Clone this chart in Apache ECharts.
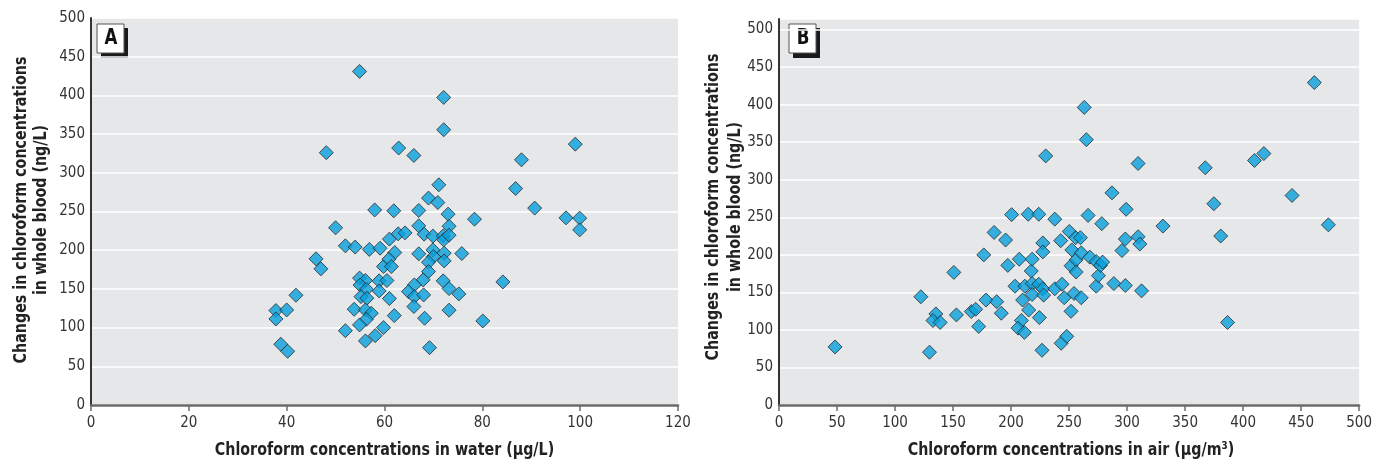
<!DOCTYPE html>
<html>
<head>
<meta charset="utf-8">
<script src="https://cdn.jsdelivr.net/npm/echarts@6.0.0/dist/echarts.min.js"></script>
<style>
  html, body { margin: 0; padding: 0; background: #fff; }
  #chart { width: 1375px; height: 461px; }
</style>
</head>
<body>
<div id="chart"></div>
<script>
// 图 A：水中氯仿浓度 vs 血液中氯仿变化
const waterX = [37.8, 40.0, 37.8, 38.8, 40.2, 41.9, 46.0, 47.0, 48.1, 50.0,
    52.0, 54.0, 52.0, 54.9, 54.9, 56.1, 55.0, 56.3, 55.2, 56.4,
    53.8, 56.1, 57.3, 56.3, 54.9, 56.1, 58.1, 59.8, 58.9, 58.9,
    59.8, 56.9, 59.1, 58.0, 62.9, 66.0, 71.1, 69.0, 70.9, 61.9,
    67.0, 73.0, 78.4, 67.0, 73.2, 68.1, 69.9, 72.0, 72.1, 73.2,
    62.8, 64.2, 61.0, 62.1, 67.0, 69.9, 72.2, 75.8, 70.0, 69.0,
    72.2, 60.9, 61.4, 69.0, 67.9, 66.1, 64.9, 66.1, 68.0, 72.0,
    73.2, 75.2, 60.5, 61.0, 66.0, 73.2, 62.0, 68.2, 80.1, 69.2,
    84.2, 99.0, 88.0, 86.8, 90.7, 97.1, 99.9, 99.9, 72.1, 72.1];
const waterBlood = [122, 122.8, 111.2, 78.5, 69.4, 141.8, 188.8, 175.9, 326, 229,
    205.6, 204, 96, 431, 164, 160.8, 155, 149.6, 140, 138,
    123.7, 122.8, 118.6, 110.8, 103.5, 82.8, 89.6, 100, 160.4, 147.4,
    178.9, 201, 202.6, 252, 332, 322.4, 284.5, 267.3, 261.6, 250.9,
    251.3, 246.6, 240.1, 231.5, 231, 220.7, 218.2, 218.5, 213.4, 219.4,
    221.1, 222.4, 214.3, 197, 195.3, 200.4, 196.2, 195.7, 191.8, 184.5,
    186.2, 188.4, 178.9, 172.4, 161.6, 155.2, 146.5, 140, 142.2, 160.4,
    150.4, 143.5, 160.8, 137.5, 127.2, 122.5, 115.5, 112.1, 108.6, 74.1,
    159, 337, 316.8, 279.7, 254.4, 241.8, 241.4, 226.3, 397.4, 355.6];

// 图 B：空气中氯仿浓度 vs 血液中氯仿变化
const airX = [48.3, 122.3, 135.2, 132.7, 138.9, 129.7, 150.7, 152.9, 165.8, 169.5,
    172.1, 176.5, 178.4, 185.4, 187.6, 191.6, 195.3, 197.2, 200.5, 203.4,
    207.1, 210.0, 208.9, 206.0, 211.5, 211.9, 214.8, 217.4, 218.2, 215.2,
    218.2, 218.2, 223.9, 227.4, 227.4, 223.9, 227.4, 228.1, 224.4, 226.7,
    229.9, 237.7, 237.7, 242.8, 243.9, 245.8, 243.2, 248.0, 250.2, 252.4,
    251.7, 251.7, 254.3, 255.7, 256.1, 256.1, 259.8, 260.5, 260.5, 263.1,
    264.9, 266.4, 267.9, 273.4, 273.4, 275.3, 277.1, 278.2, 278.9, 287.0,
    288.6, 295.6, 298.5, 299.2, 298.5, 309.5, 311.0, 309.5, 312.5, 330.9,
    367.4, 374.8, 380.7, 386.6, 409.8, 417.9, 442.2, 461.4, 473.5];
const airBlood = [77.3, 144.1, 121.3, 112.5, 109.9, 70.3, 176.6, 120, 124.4, 127.4,
    104.6, 199.9, 139.7, 229.8, 137.5, 122.2, 219.7, 185.9, 253.5, 158.2,
    194.2, 139.7, 112.5, 102.4, 96.7, 158.2, 254, 178.4, 194.2, 126.5,
    161.7, 147.2, 254, 215.8, 203.9, 160.8, 154.7, 146.3, 116.4, 72.9,
    331.7, 247.5, 154.7, 218.8, 160.8, 142.8, 82.2, 91.4, 231.1, 206.5,
    185.4, 124.8, 148.5, 222.8, 193.3, 177.1, 222.8, 202.6, 142.8, 396.3,
    353.3, 252.5, 196.9, 191.1, 158.2, 172.2, 185.9, 241.5, 190.3, 282.5,
    161.7, 205.6, 221.0, 260.6, 159.1, 224.1, 214.4, 321.6, 152.0, 238.2,
    315.9, 268.0, 225.0, 109.9, 325.6, 334.8, 279.0, 429.3, 239.9];

const yTicks = [0, 50, 100, 150, 200, 250, 300, 350, 400, 450, 500];
const waterTicks = [0, 20, 40, 60, 80, 100, 120];
const airTicks = [0, 50, 100, 150, 200, 250, 300, 350, 400, 450, 500];

const FONT = "'DejaVu Sans Condensed', 'Liberation Sans Narrow', 'Roboto', sans-serif";
const BG = "#e6e7e8";

const pairs = (xs, ys) => xs.map((x, i) => [x, ys[i]]);
const onlyTicks = (ticks) => (v) => ticks.includes(Math.round(v * 10) / 10) ? String(v) : "";

function makeX(idx, max, interval, ticks) {
    return {
        gridIndex: idx, type: "value", min: 0, max, interval,
        axisLine: { show: true, lineStyle: { color: "#6b6b6b", width: 2.5 } },
        axisTick: { show: true, inside: false, length: 6, lineStyle: { color: "#6b6b6b", width: 1.5 } },
        axisLabel: { fontFamily: FONT, fontSize: 15, color: "#333", margin: 11, formatter: onlyTicks(ticks) },
        splitLine: { show: false }
    };
}

function makeY(idx, max) {
    return {
        gridIndex: idx, type: "value", min: 0, max, interval: 50,
        axisLine: { show: true, lineStyle: { color: "#333", width: 2 } },
        axisTick: { show: false },
        axisLabel: { fontFamily: FONT, fontSize: 15, color: "#333", margin: 6, formatter: onlyTicks(yTicks) },
        splitLine: { show: true, lineStyle: { color: "#fff", width: 1.5 } }
    };
}

const markStyle = { color: "#06a0dc", borderColor: "#2a2a2a", borderWidth: 1 };
const titleFont = `bold 18px ${FONT}`;
const SQUEEZE = 0.88; // 原图是窄体字，横向压一下

function panelLabel(x, letter) {
    return [
        { type: "rect", shape: { x: x + 4, y: 28, width: 27, height: 30 }, style: { fill: "#1a1a1a" } },
        { type: "rect", shape: { x: x, y: 24, width: 27, height: 29 }, style: { fill: "#fff", stroke: "#555", lineWidth: 1 } },
        { type: "text", x: x + 14, y: 39, scaleX: SQUEEZE, style: { text: letter, font: `bold 21px ${FONT}`, fill: "#111", textAlign: "center", textVerticalAlign: "middle" } }
    ];
}

function title(text, x, y, rot) {
    return { type: "text", x, y, rotation: rot || 0, scaleX: SQUEEZE,
        style: { text, font: titleFont, fill: "#222", textAlign: "center", textVerticalAlign: "middle" } };
}

const chart = echarts.init(document.getElementById("chart"), null, { renderer: "canvas" });
chart.setOption({
    animation: false,
    backgroundColor: "#fff",
    grid: [
        { left: 91, top: 18, width: 587, height: 387, show: true, backgroundColor: BG, borderWidth: 0 },
        { left: 779, top: 19, width: 585, height: 386, show: true, backgroundColor: BG, borderWidth: 0 }
    ],
    xAxis: [makeX(0, 120, 20, waterTicks), makeX(1, 500, 50, airTicks)],
    yAxis: [makeY(0, 500), makeY(1, 514)],
    series: [
        { type: "scatter", xAxisIndex: 0, yAxisIndex: 0, symbol: "diamond", symbolSize: 14, itemStyle: markStyle, data: pairs(waterX, waterBlood) },
        { type: "scatter", xAxisIndex: 1, yAxisIndex: 1, symbol: "diamond", symbolSize: 14, itemStyle: markStyle, data: pairs(airX, airBlood) }
    ],
    graphic: [
        ...panelLabel(97, "A"),
        ...panelLabel(789, "B"),
        title("Changes in chloroform concentrations", 21.5, 210, Math.PI / 2),
        title("in whole blood (ng/L)", 41.5, 210, Math.PI / 2),
        title("Changes in chloroform concentrations", 713.5, 207, Math.PI / 2),
        title("in whole blood (ng/L)", 735, 207, Math.PI / 2),
        title("Chloroform concentrations in water (\u03bcg/L)", 384.5, 450),
        title("Chloroform concentrations in air (\u03bcg/m\u00b3)", 1071, 450)
    ]
});
</script>
</body>
</html>
